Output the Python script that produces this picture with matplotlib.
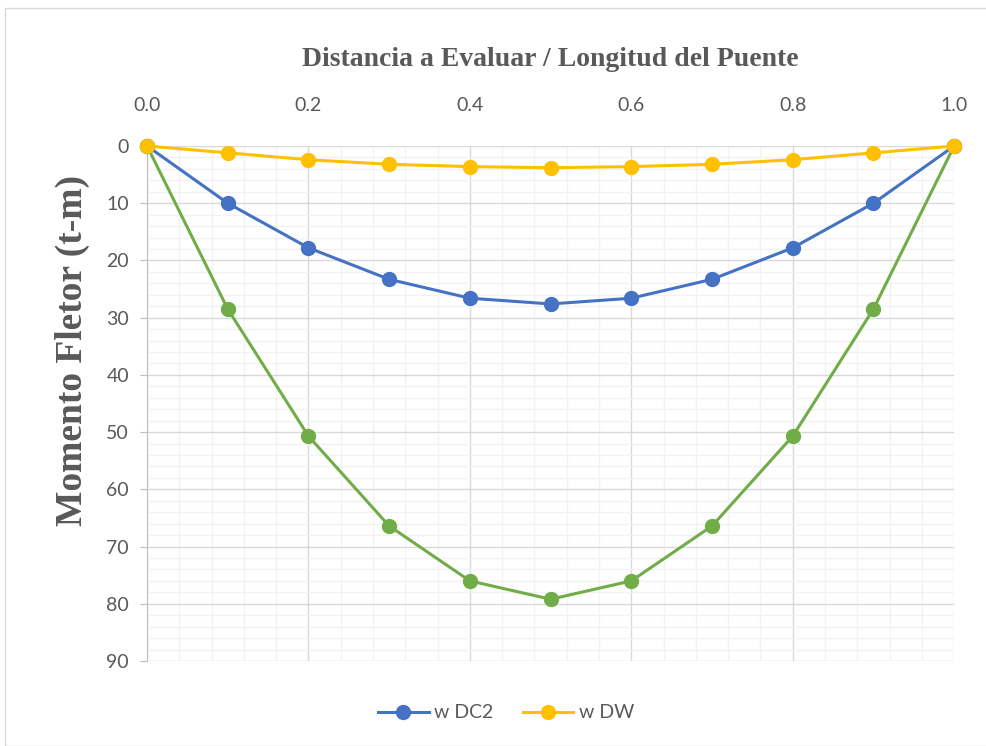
import matplotlib.pyplot as plt
from matplotlib.patches import Rectangle
from matplotlib.ticker import MultipleLocator, FormatStrFormatter

# relative position along the bridge
x_rel = [0.0, 0.1, 0.2, 0.3, 0.4, 0.5, 0.6, 0.7, 0.8, 0.9, 1.0]
# bending moments (t-m)
m_dc2 = [0.0, 10.0, 17.8, 23.3, 26.6, 27.6, 26.6, 23.3, 17.8, 10.0, 0.0]
m_dw = [0.0, 1.2, 2.4, 3.2, 3.6, 3.8, 3.6, 3.2, 2.4, 1.2, 0.0]
m_ll = [0.0, 28.5, 50.7, 66.4, 76.0, 79.2, 76.0, 66.4, 50.7, 28.5, 0.0]

gray_txt = "#595959"
fig = plt.figure(figsize=(9.87, 7.46), dpi=100)
ax = fig.add_axes([0.149, 0.1139, 0.8177, 0.6904])

ax.plot(x_rel, m_ll, color="#70ad47", lw=2.2, marker="o", ms=10, zorder=3, clip_on=False)
ax.plot(x_rel, m_dc2, color="#4472c4", lw=2.2, marker="o", ms=10, label="w DC2", zorder=4, clip_on=False)
ax.plot(x_rel, m_dw, color="#ffc000", lw=2.2, marker="o", ms=10, label="w DW", zorder=5, clip_on=False)

ax.set_xlim(0, 1)
ax.set_ylim(90, 0)
ax.xaxis.set_major_locator(MultipleLocator(0.2))
ax.xaxis.set_minor_locator(MultipleLocator(0.04))
ax.xaxis.set_major_formatter(FormatStrFormatter("%.1f"))
ax.yaxis.set_major_locator(MultipleLocator(10))
ax.yaxis.set_minor_locator(MultipleLocator(2))

ax.xaxis.tick_top()
ax.xaxis.set_label_position("top")
ax.tick_params(axis="x", which="both", length=0, pad=23, labelsize=14, labelcolor=gray_txt)
ax.tick_params(axis="y", which="major", length=5, color="#bfbfbf", pad=8, labelsize=14, labelcolor=gray_txt)
ax.tick_params(axis="y", which="minor", length=0)
for lab in ax.get_xticklabels() + ax.get_yticklabels():
    lab.set_family("Lato")

ax.grid(which="major", color="#d9d9d9", lw=1.0, zorder=0)
ax.grid(which="minor", color="#f2f2f2", lw=1.0, zorder=0)
ax.set_axisbelow(True)
for s in ["top", "right", "bottom"]:
    ax.spines[s].set_visible(False)
ax.spines["left"].set_color("#bfbfbf")

ax.set_xlabel("Distancia a Evaluar / Longitud del Puente", family="Liberation Serif",
              fontweight="bold", fontsize=20, color=gray_txt, labelpad=22)
fig.text(72 / 987, 1 - 350 / 746, "Momento Fletor (t-m)", rotation=90, ha="center", va="center",
         family="Liberation Serif", fontweight="bold", fontsize=27, color=gray_txt)

leg = fig.legend(loc="center", bbox_to_anchor=(0.513, 1 - 713 / 746), ncol=2, frameon=False,
                 prop={"family": "Lato", "size": 14}, handlelength=2.6, handletextpad=0.3,
                 columnspacing=1.5)
for t in leg.get_texts():
    t.set_color(gray_txt)

fig.patches.append(Rectangle((5 / 987, 0), 1, 1 - 8 / 746, transform=fig.transFigure,
                             fill=False, edgecolor="#d9d9d9", lw=1.0))

plt.savefig("out.png", dpi=100)
